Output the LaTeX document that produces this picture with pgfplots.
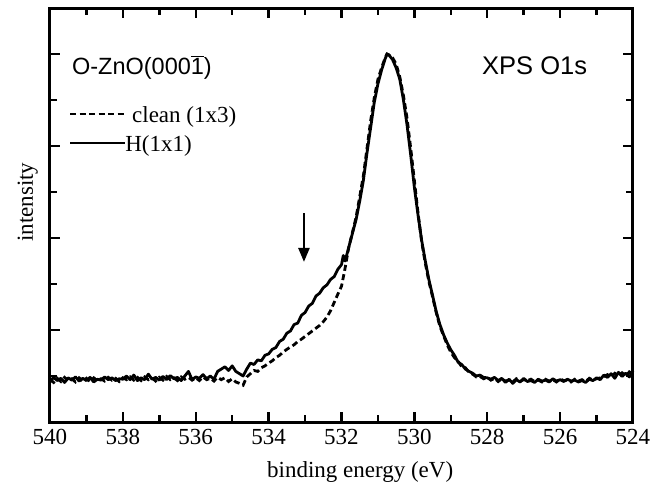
\documentclass[border=0pt]{standalone}
\usepackage{pgfplots}
\pgfplotsset{compat=1.18}
\usepackage{pgfplotstable}
\usepackage{fontspec}
\setmainfont{Liberation Serif}
\newfontfamily\arial{Liberation Sans}
\usetikzlibrary{arrows.meta}

\pgfplotstableread{
x y
540.0 0.88
539.9 0.97
539.8 0.90
539.7 0.95
539.6 0.86
539.5 0.96
539.4 0.91
539.3 0.98
539.2 0.89
539.1 0.95
539.0 0.90
538.9 0.97
538.8 0.87
538.7 0.93
538.6 0.91
538.5 0.98
538.4 0.92
538.3 0.96
538.2 0.90
538.1 0.94
538.0 0.93
537.9 1.00
537.8 0.92
537.7 1.02
537.6 0.90
537.5 0.96
537.4 0.92
537.3 1.04
537.2 0.93
537.1 0.97
537.0 0.91
536.9 0.99
536.8 0.92
536.7 1.01
536.6 0.94
536.5 0.97
536.4 0.90
536.3 1.00
536.2 1.10
536.1 0.92
536.0 0.98
535.9 0.95
535.8 1.03
535.7 0.94
535.6 1.00
535.5 0.93
535.4 1.10
535.3 1.15
535.2 1.20
535.1 1.12
535.0 1.22
534.9 1.10
534.8 1.05
534.7 1.00
534.6 1.15
534.5 1.28
534.4 1.25
534.3 1.35
534.2 1.33
534.1 1.45
534.0 1.48
533.9 1.58
533.8 1.62
533.7 1.75
533.6 1.80
533.5 1.93
533.4 1.98
533.3 2.12
533.2 2.15
533.1 2.32
533.0 2.38
532.9 2.52
532.8 2.58
532.7 2.74
532.6 2.80
532.5 2.92
532.4 2.98
532.3 3.10
532.2 3.16
532.1 3.32
532.0 3.42
531.95 3.62
531.9 3.50
531.8 3.80
531.7 4.10
531.6 4.40
531.5 4.80
531.4 5.25
531.3 5.85
531.2 6.40
531.1 6.95
531.0 7.35
530.9 7.65
530.8 7.90
530.75 8.00
530.7 7.98
530.6 7.88
530.5 7.70
530.4 7.45
530.3 7.00
530.2 6.45
530.1 5.80
530.0 5.10
529.9 4.50
529.8 3.95
529.7 3.50
529.6 3.09
529.5 2.75
529.4 2.40
529.3 2.12
529.2 1.90
529.1 1.72
529.0 1.57
528.9 1.45
528.8 1.30
528.7 1.25
528.6 1.15
528.5 1.10
528.4 1.06
528.3 1.00
528.2 1.02
528.1 0.97
528.0 0.96
527.9 0.93
527.8 0.97
527.7 0.90
527.6 0.95
527.5 0.86
527.4 0.93
527.3 0.84
527.2 0.92
527.1 0.87
527.0 0.95
526.9 0.88
526.8 0.90
526.7 0.86
526.6 0.93
526.5 0.89
526.4 0.91
526.3 0.87
526.2 0.94
526.1 0.89
526.0 0.92
525.9 0.88
525.8 0.93
525.7 0.89
525.6 0.91
525.5 0.87
525.4 0.90
525.3 0.86
525.2 0.93
525.1 0.90
525.0 0.96
524.9 0.92
524.8 1.02
524.7 0.97
524.6 1.05
524.5 0.95
524.4 1.08
524.3 0.99
524.2 1.06
524.1 0.98
524.0 1.12
}\hydro

\pgfplotstableread{
x y
540.0 0.92
539.9 0.86
539.8 0.95
539.7 0.88
539.6 0.97
539.5 0.90
539.4 0.94
539.3 0.87
539.2 0.96
539.1 0.89
539.0 0.95
538.9 0.88
538.8 0.96
538.7 0.90
538.6 0.94
538.5 0.89
538.4 0.97
538.3 0.91
538.2 0.95
538.1 0.88
538.0 0.96
537.9 0.92
537.8 0.98
537.7 0.91
537.6 0.97
537.5 0.90
537.4 0.98
537.3 0.92
537.2 0.96
537.1 0.89
537.0 0.97
536.9 0.91
536.8 0.99
536.7 0.92
536.6 0.96
536.5 0.90
536.4 0.98
536.3 0.93
536.2 0.97
536.1 0.91
536.0 0.96
535.9 0.90
535.8 0.98
535.7 0.92
535.6 0.95
535.5 0.89
535.4 0.97
535.3 0.92
535.2 0.96
535.1 0.88
535.0 0.94
534.9 0.87
534.8 0.84
534.7 0.80
534.6 0.98
534.5 1.05
534.4 1.12
534.3 1.10
534.2 1.18
534.1 1.22
534.0 1.28
533.9 1.33
533.8 1.40
533.7 1.45
533.6 1.52
533.5 1.58
533.4 1.63
533.3 1.68
533.2 1.75
533.1 1.80
533.0 1.86
532.9 1.92
532.8 1.98
532.7 2.04
532.6 2.10
532.5 2.18
532.4 2.28
532.3 2.42
532.2 2.60
532.1 2.78
532.0 2.95
531.9 3.35
531.8 3.80
531.7 4.12
531.6 4.45
531.5 4.90
531.4 5.35
531.3 5.95
531.2 6.55
531.1 7.05
531.0 7.45
530.9 7.70
530.8 7.92
530.75 8.00
530.7 7.98
530.6 7.92
530.5 7.78
530.4 7.50
530.3 7.10
530.2 6.60
530.1 5.95
530.0 5.25
529.9 4.55
529.8 3.92
529.7 3.45
529.6 3.05
529.5 2.72
529.4 2.38
529.3 2.08
529.2 1.88
529.1 1.68
529.0 1.52
528.9 1.40
528.8 1.32
528.7 1.20
528.6 1.18
528.5 1.08
528.4 1.04
528.3 0.98
528.2 0.99
528.1 0.94
528.0 0.97
527.9 0.91
527.8 0.95
527.7 0.88
527.6 0.94
527.5 0.89
527.4 0.91
527.3 0.87
527.2 0.94
527.1 0.88
527.0 0.92
526.9 0.90
526.8 0.93
526.7 0.88
526.6 0.91
526.5 0.87
526.4 0.93
526.3 0.89
526.2 0.92
526.1 0.87
526.0 0.94
525.9 0.90
525.8 0.91
525.7 0.87
525.6 0.93
525.5 0.89
525.4 0.92
525.3 0.88
525.2 0.95
525.1 0.91
525.0 0.94
524.9 0.96
524.8 0.99
524.7 1.03
524.6 0.98
524.5 1.06
524.4 1.01
524.3 1.07
524.2 1.00
524.1 1.09
524.0 1.04
}\clean

\begin{document}
\begin{tikzpicture}
\useasboundingbox (-50pt,-71pt) rectangle (619pt,422pt);
\begin{axis}[
  anchor=south west, at={(0pt,0pt)},
  scale only axis, width=583pt, height=414pt,
  x dir=reverse,
  xmin=524, xmax=540, ymin=0, ymax=9,
  xtick={524,526,...,540}, minor x tick num=1,
  ytick={2,4,6,8}, minor ytick={1,3,5,7}, yticklabels={},
  tick pos=both, tick align=inside,
  major tick length=10pt, minor tick length=7pt,
  every tick/.style={black, line width=2.4pt},
  axis line style={line width=3pt},
  /pgf/number format/assume math mode=true,
  /pgf/number format/1000 sep={},
  xticklabel style={font=\fontsize{23}{26}\selectfont, yshift=-4pt},
  xlabel={binding energy (eV)},
  ylabel={intensity},
  xlabel style={font=\fontsize{23}{26}\selectfont, at={(axis description cs:0.532,0)}, anchor=base, yshift=-55pt},
  ylabel style={font=\fontsize{23}{26}\selectfont, at={(axis description cs:0,0.531)}, rotate=0, anchor=base, yshift=17pt},
  clip=false,
]
\addplot[black, line width=2.8pt, line join=round] table {\hydro};
\addplot[black, line width=2.8pt, dash pattern=on 6pt off 3.5pt] table {\clean};

\draw[line width=2.4pt, -{Triangle[length=14pt,width=11pt]}] (axis cs:533.03,4.54) -- (axis cs:533.03,3.48);

\draw[black, line width=2.8pt, dash pattern=on 6pt off 3.5pt] (axis cs:539.45,6.696) -- (axis cs:537.97,6.696);
\draw[black, line width=2.8pt] (axis cs:539.45,6.065) -- (axis cs:537.94,6.065);
\node[anchor=base west, inner sep=0pt, font=\fontsize{23}{26}\selectfont] at (axis cs:537.75,6.52) {clean (1x3)};
\node[anchor=base west, inner sep=0pt, font=\fontsize{23}{26}\selectfont] at (axis cs:537.94,5.87) {H(1x1)};
\node[anchor=base west, inner sep=0pt, font=\arial\fontsize{23.5}{26}\selectfont] at (axis cs:539.40,7.565) {O-ZnO(000$\overline{\mbox{1}}$)};
\node[anchor=base west, inner sep=0pt, font=\arial\fontsize{25.5}{28}\selectfont] at (axis cs:528.145,7.565) {XPS O1s};
\end{axis}
\end{tikzpicture}
\end{document}
